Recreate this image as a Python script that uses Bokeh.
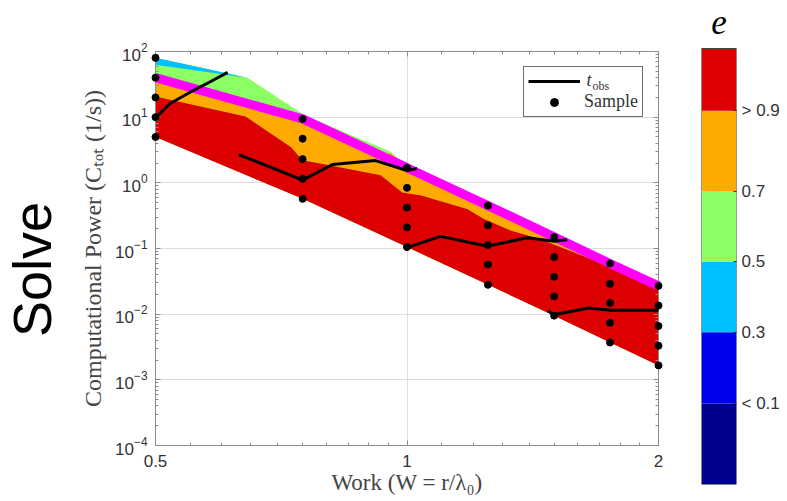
import math
from bokeh.plotting import figure
from bokeh.models import (Range1d, LogAxis, LinearAxis, FixedTicker, CustomJSTickFormatter,
                          Legend, LegendItem)
from bokeh.core.properties import value
from bokeh.layouts import row
from bokeh.embed import file_html
from bokeh.resources import INLINE

# ---------------- data ----------------
W = [0.5, 0.75, 1.0, 1.25, 1.5, 1.75, 2.0]
C_s1 = [80, 9.4, 1.7, 0.45, 0.15, 0.059, 0.027]
C_s2 = [40, 4.7, 0.84, 0.225, 0.074, 0.029, 0.0135]
C_s3 = [20, 2.3, 0.42, 0.113, 0.037, 0.0148, 0.0066]
C_s4 = [10, 1.15, 0.21, 0.057, 0.0187, 0.0074, 0.0033]
C_s5 = [5, 0.57, 0.105, 0.028, 0.0095, 0.0037, 0.00166]

# magenta bound line
mag_W = [0.5, 0.75, 1.0, 1.25, 1.5, 1.75, 2.0]
mag_C = [40, 9.4, 1.7, 0.45, 0.15, 0.059, 0.027]

# contour band boundaries
region_top_W = [0.5, 0.644, 0.75, 0.85, 0.955, 1.0, 1.25, 1.5, 1.75, 2.0]
region_top_C = [80, 40, 11.2, 5.6, 3.0, 1.75, 0.45, 0.15, 0.059, 0.027]
cyan_W = [0.5, 0.644, 0.5]
cyan_C = [80, 40, 63]
orange_top_W = [0.5, 0.75, 0.94, 0.955, 1.0, 1.25, 1.5, 1.75, 2.0]
orange_top_C = [40, 9.4, 2.45, 2.9, 1.75, 0.45, 0.15, 0.059, 0.027]
red_top_W = [0.5, 0.641, 0.726, 0.75, 0.81, 0.93, 0.987, 1.04, 1.18, 1.235, 1.33, 1.44, 1.9, 2.0]
red_top_C = [20.7, 10.2, 3.5, 2.2, 1.83, 1.3, 0.71, 0.64, 0.40, 0.284, 0.188, 0.141, 0.035, 0.0245]

# t_obs segments
tobs1_W = [0.5, 0.52, 0.55, 0.58, 0.61]
tobs1_C = [9.7, 16, 24, 34, 48]
tobs2_W = [0.629, 0.75, 0.814, 0.917, 1.0, 1.028]
tobs2_C = [2.69, 1.10, 1.90, 2.18, 1.54, 1.65]
tobs3_W = [1.0, 1.097, 1.248, 1.393, 1.5, 1.555]
tobs3_C = [0.103, 0.153, 0.108, 0.146, 0.129, 0.136]
tobs4_W = [1.475, 1.5, 1.65, 1.75, 2.0]
tobs4_C = [0.0112, 0.0098, 0.0124, 0.01146, 0.01146]

# colorbar (band edges as fraction of bar height, bottom to top)
cbar_colors = ["#00008C", "#0000F0", "#00BFFF", "#8CFF64", "#FFAA00", "#DC0000"]
cbar_bounds = [0.0, 0.186, 0.349, 0.511, 0.673, 0.857, 1.0]
cbar_tick_labels = ["< 0.1", "0.3", "0.5", "0.7", "> 0.9"]

x_major = [0.5, 1, 2]
x_minor = [0.55, 0.6, 0.65, 0.7, 0.75, 0.8, 0.85, 0.9, 0.95,
           1.1, 1.2, 1.3, 1.4, 1.5, 1.6, 1.7, 1.8, 1.9]
y_major = [1e-4, 1e-3, 1e-2, 1e-1, 1e0, 1e1, 1e2]
y_minor = [k * d for d in y_major[:-1] for k in range(2, 10)]

RED, ORANGE, GREEN, CYAN = cbar_colors[5], cbar_colors[4], cbar_colors[3], cbar_colors[2]
AXC = "#8c8c8c"
TXT = "#333333"
SERIF = "Liberation Serif"
SANS = "Liberation Sans"


def no_align(fig):
    try:
        fig.frame_align = False
    except Exception:
        pass


# ---------------- left "Solve" panel ----------------
sf = figure(width=70, height=501, x_range=Range1d(0, 1), y_range=Range1d(0, 501),
            output_backend="svg", toolbar_location=None,
            x_axis_location=None, y_axis_location=None,
            min_border_left=0, min_border_right=0, min_border_top=0, min_border_bottom=0)
sf.outline_line_color = None
sf.xgrid.visible = False
sf.ygrid.visible = False
sf.text(x=[0.45], y=[232], text=["Solve"], angle=math.pi / 2,
        text_font=value(SANS), text_font_size="54px", text_color="black",
        text_align="center", text_baseline="middle")
no_align(sf)

# ---------------- main figure ----------------
p = figure(width=620, height=501, x_axis_type="log", y_axis_type="log",
           x_range=Range1d(0.5, 2), y_range=Range1d(1e-4, 1e2),
           output_backend="svg", toolbar_location=None,
           min_border_left=85, min_border_right=32, min_border_top=51, min_border_bottom=56)
p.outline_line_color = None
no_align(p)

bottom_rev_W = W[::-1]
bottom_rev_C = C_s5[::-1]

p.patch(region_top_W + bottom_rev_W, region_top_C + bottom_rev_C, fill_color=GREEN, line_color=None)
p.patch(cyan_W, cyan_C, fill_color=CYAN, line_color=None)
p.patch(orange_top_W + red_top_W[::-1], orange_top_C + red_top_C[::-1], fill_color=ORANGE, line_color=None)
p.patch(red_top_W + bottom_rev_W, red_top_C + bottom_rev_C, fill_color=RED, line_color=None)

mag = p.line(mag_W, mag_C, line_color="#FF00FF", line_width=9, level="overlay")
tobs = p.multi_line([tobs1_W, tobs2_W, tobs3_W, tobs4_W], [tobs1_C, tobs2_C, tobs3_C, tobs4_C],
                    line_color="black", line_width=3, level="overlay")
sx = [w for w in W for _ in range(5)]
sy = [c for i in range(len(W)) for c in (C_s1[i], C_s2[i], C_s3[i], C_s4[i], C_s5[i])]
dots = p.scatter(sx, sy, size=7, fill_color="black", line_color="black", level="overlay")

# grid
p.xgrid.ticker = FixedTicker(ticks=x_major)
p.ygrid.ticker = FixedTicker(ticks=y_major)
p.grid.grid_line_color = "#dedede"
p.grid.grid_line_width = 1


def style_axis(ax, ticker):
    ax.ticker = ticker
    ax.axis_line_color = AXC
    ax.major_tick_line_color = AXC
    ax.minor_tick_line_color = AXC
    ax.major_tick_in = 5
    ax.major_tick_out = 0
    ax.minor_tick_in = 3
    ax.minor_tick_out = 0


xt = FixedTicker(ticks=x_major, minor_ticks=x_minor)
yt = FixedTicker(ticks=y_major, minor_ticks=y_minor)

xa = p.xaxis[0]
style_axis(xa, xt)
xa.formatter = CustomJSTickFormatter(code="return String(tick);")
xa.major_label_text_font = SANS
xa.major_label_text_font_size = "17px"
xa.major_label_text_color = TXT
xa.major_label_standoff = 9
xa.axis_label = "Work (W = r/λ₀)"
xa.axis_label_text_font = SERIF
xa.axis_label_text_font_style = "normal"
xa.axis_label_text_font_size = "23px"
xa.axis_label_text_color = "#444444"
xa.axis_label_standoff = 0

ya = p.yaxis[0]
style_axis(ya, yt)
ya.major_label_text_font = SANS
ya.major_label_text_font_size = "17px"
ya.major_label_text_color = TXT
ya.major_label_standoff = 8
ya.axis_label = "Computational Power (Cₜₒₜ (1/s))"
ya.axis_label_text_font = SERIF
ya.axis_label_text_font_style = "normal"
ya.axis_label_text_font_size = "24px"
ya.axis_label_text_color = "#444444"
ya.axis_label_standoff = 6

blank = CustomJSTickFormatter(code="return '';")
top_ax = LogAxis(formatter=blank, major_label_standoff=0)
style_axis(top_ax, FixedTicker(ticks=x_major, minor_ticks=x_minor))
right_ax = LogAxis(formatter=blank, major_label_standoff=0)
style_axis(right_ax, FixedTicker(ticks=y_major, minor_ticks=y_minor))
p.add_layout(top_ax, "above")
p.add_layout(right_ax, "right")

legend = Legend(items=[LegendItem(label=" ", renderers=[tobs]),
                       LegendItem(label="Sample", renderers=[dots])],
                location="top_right", margin=15, padding=4, spacing=0,
                glyph_width=52, glyph_height=20, label_height=20, label_standoff=4,
                label_text_font=SERIF, label_text_font_size="18px", label_text_color=TXT,
                border_line_color="#6e6e6e", border_line_width=1, border_line_alpha=1,
                background_fill_color="white", background_fill_alpha=0.01)
p.add_layout(legend, "center")

# legend label "t_obs" (italic t with subscript) next to the first legend entry
p.text(x=[1.640], y=[36.8], text=["t"], text_font=value(SERIF), text_font_style="italic",
       text_font_size="18px", text_color=TXT, text_align="left", text_baseline="middle")
p.text(x=[1.667], y=[30.3], text=["obs"], text_font=value(SERIF),
       text_font_size="12px", text_color=TXT, text_align="left", text_baseline="middle")

# ---------------- colorbar figure ----------------
bar_px = 436.0
top_extra = 48.0 / bar_px
cb = figure(width=97, height=501, x_range=Range1d(0, 1), y_range=Range1d(0, 1 + top_extra),
            output_backend="svg", toolbar_location=None,
            x_axis_location=None, y_axis_location=None,
            min_border_left=11, min_border_right=51, min_border_top=0, min_border_bottom=17)
no_align(cb)
cb.outline_line_color = None
cb.xgrid.visible = False
cb.ygrid.visible = False
cb.quad(left=0, right=1, bottom=cbar_bounds[:-1], top=cbar_bounds[1:],
        fill_color=cbar_colors, line_color=None)
cb.quad(left=[0], right=[1], bottom=[cbar_bounds[0]], top=[cbar_bounds[-1]],
        fill_color=None, line_color="#444444", line_width=1)
cb.text(x=[0.5], y=[1 + 27.0 / bar_px], text=["e"], text_font=value(SERIF),
        text_font_style="italic", text_font_size="35px", text_color="black",
        text_align="center", text_baseline="middle")
cax = LinearAxis(ticker=FixedTicker(ticks=cbar_bounds[1:-1]),
                 formatter=CustomJSTickFormatter(
                     args=dict(labels=cbar_tick_labels, bounds=cbar_bounds[1:-1]),
                     code="let k = 0; let d = 1e9; for (let i = 0; i < bounds.length; i++) {"
                          " const e = Math.abs(bounds[i] - tick); if (e < d) { d = e; k = i; } }"
                          " return labels[k];"))
cax.axis_line_color = None
cax.major_tick_line_color = "#333333"
cax.major_tick_in = 3
cax.major_tick_out = 0
cax.minor_tick_line_color = None
cax.major_label_standoff = 5
cax.major_label_text_font = SANS
cax.major_label_text_font_size = "17px"
cax.major_label_text_color = TXT
cb.add_layout(cax, "right")

layout = row(sf, p, cb)
open("out.html", "w").write(file_html(layout, INLINE))
